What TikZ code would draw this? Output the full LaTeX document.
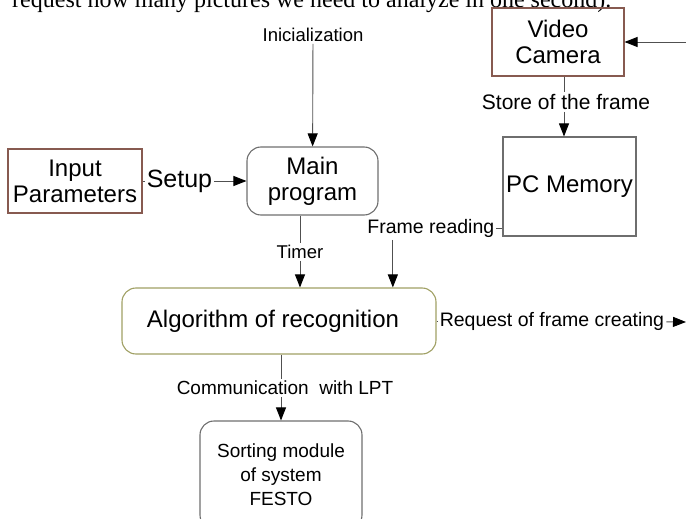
\documentclass[tikz,border=0pt]{standalone}
\usepackage{fontspec}
\setmainfont{Liberation Sans}
\newfontfamily\pageserif{Liberation Serif}
\usetikzlibrary{positioning, arrows.meta}

\definecolor{boxgray}{RGB}{110,110,110}
\definecolor{boxbrown}{RGB}{135,90,80}
\definecolor{boxolive}{RGB}{160,160,100}
\definecolor{linegray}{RGB}{80,80,80}

\begin{document}
\begin{tikzpicture}[x=1pt, y=-1pt, >={Triangle[length=13pt,width=10pt,color=black]},
        every node/.style={font=\fontsize{18.5}{22}\selectfont, inner sep=2pt, text=black},
        plainbox/.style={draw=#1, line width=1.1pt, align=center, font=\fontsize{24}{26}\selectfont},
        roundbox/.style={plainbox=#1, rounded corners=14pt},
        link/.style={draw=linegray, line width=0.9pt}]
        \clip (0,0) rectangle (686,519);

        % text of the page above the figure
        \node[anchor=base west, font=\pageserif\fontsize{24}{28}\selectfont] (pagetext) at (10,8) {request how many pictures we need to analyze in one second).};

        \node[plainbox=boxbrown, minimum width=132pt, minimum height=68pt] (camera) at (558,42) {Video\\Camera};
        \node[plainbox=boxgray, minimum width=133pt, minimum height=99pt] (memory) at (569.5,186.5) {PC Memory};
        \node[plainbox=boxbrown, minimum width=134pt, minimum height=64pt] (input) at (75,181) {Input\\Parameters};
        \node[roundbox=boxgray, minimum width=131pt, minimum height=68pt] (main) at (312.5,181) {Main\\program};
        \node[roundbox=boxolive, minimum width=314pt, minimum height=66pt] (algo) at (279,321) {\hspace*{-12pt}Algorithm of recognition};
        \node[roundbox=boxgray, minimum width=162pt, minimum height=108pt, font=\fontsize{19}{24}\selectfont] (sorting) at (281,475) {Sorting module\\of system\\FESTO};

        % labels of the connectors
        \node (init) at (313,35) {Inicialization};
        \node[right=2pt, font=\fontsize{25}{28}\selectfont] (setup) at (input.east) {Setup};
        \node (timer) at (300,252) {Timer};
        \node[left=6pt, font=\fontsize{19.5}{22}\selectfont] (frame) at ([yshift=8pt]memory.south west) {Frame reading};
        \node[font=\fontsize{21}{24}\selectfont] (store) at (566,102) {Store of the frame};
        \node[right=1pt, font=\fontsize{19.5}{22}\selectfont] (request) at (algo.east) {Request of frame creating};
        \node[font=\fontsize{19}{22}\selectfont] (comm) at (285,388) {Communication\ \ with LPT};
        \coordinate (camin) at (686,42);
        \coordinate (reqout) at (686,322);

        \draw[link, ->] (camin) -- (camera);
        \draw[link] (camera.south -| 564,0) -- (store.north -| 564,0);
        \draw[link, ->] (store.south -| 564,0) -- (memory.north -| 564,0);
        \draw[link, ->] (init) -- (main);
        \draw[link] (input) -- (setup);
        \draw[link, ->] (setup) -- (main);
        \draw[link] (main.south -| timer) -- (timer);
        \draw[link, ->] (timer) -- (timer |- algo.north);
        \draw[link] (frame.east) -- (frame.east -| memory.west);
        \draw[link, ->] ([xshift=-38pt]frame.south) -- ([xshift=-38pt]frame.south |- algo.north);
        \draw[link] (algo.east |- request) -- (request);
        \draw[link, ->] (request) -- (reqout);
        \draw[link] (algo.south -| sorting) -- (sorting |- comm.north);
        \draw[link, ->] (sorting |- comm.south) -- (sorting.north);
\end{tikzpicture}
\end{document}
